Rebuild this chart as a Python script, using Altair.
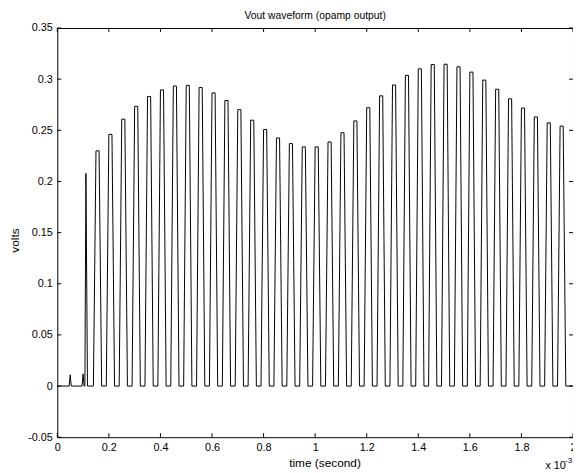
import altair as alt
import pandas as pd

# ---- text ----
chart_title = "Vout waveform (opamp output)"
x_title = "time (second)"
y_title = "volts"

# ---- data (time in ms) ----
pulse_period = 0.05
first_pulse_time = 0.15
pulse_peaks = [0.2299, 0.2460, 0.2609, 0.2734, 0.2831, 0.2895, 0.2933, 0.2940, 0.2918, 0.2866, 0.2792,
               0.2702, 0.2599, 0.2508, 0.2425, 0.2370, 0.2338, 0.2338, 0.2386, 0.2476, 0.2592, 0.2721,
               0.2837, 0.2943, 0.3037, 0.3101, 0.3143, 0.3146, 0.3121, 0.3069, 0.2991, 0.2901, 0.2808,
               0.2718, 0.2631, 0.2573, 0.2541]
startup_times = [0.0, 0.046, 0.050, 0.054, 0.096, 0.100, 0.104, 0.107, 0.111, 0.117]
startup_values = [0.0, 0.0, 0.011, 0.0, 0.0, 0.012, 0.0, 0.0, 0.208, 0.0]
end_times = [2.0]
end_values = [0.0]

# per-pulse shape (offsets from the moment the peak is reached, ms)
rise_time = 0.010
hold_time = 0.012
fall_time = 0.010

x_ticks = [0, 0.2, 0.4, 0.6, 0.8, 1.0, 1.2, 1.4, 1.6, 1.8, 2.0]
y_ticks = [-0.05, 0, 0.05, 0.1, 0.15, 0.2, 0.25, 0.3, 0.35]

# ---- build the waveform table ----
ts, vs = list(startup_times), list(startup_values)
for k, p in enumerate(pulse_peaks):
    t0 = first_pulse_time + k * pulse_period
    ts += [t0 - rise_time, t0, t0 + hold_time, t0 + hold_time + fall_time]
    vs += [0.0, p, p, 0.0]
ts += end_times
vs += end_values
wave = pd.DataFrame({"t": ts, "v": vs, "i": range(len(ts))})

W, H = 523, 415
FONT = "Liberation Sans"
xscale = alt.Scale(domain=[0, 2], nice=False, zero=False)
yscale = alt.Scale(domain=[-0.05, 0.35], nice=False, zero=False)

x_axis = alt.Axis(values=x_ticks, title=x_title, labelExpr="format(datum.value, '~g')",
                  labelPadding=4, titleX=271, titleY=26, titleBaseline="middle",
                  titleFontSize=12, labelFlush=False, labelOverlap=False)
y_axis = alt.Axis(values=y_ticks, title=y_title,
                  labelExpr="replace(format(datum.value, '.2~f'), '\u2212', '-')",
                  labelPadding=5, titleX=-43, titleY=215, titleBaseline="middle",
                  titleFontSize=12, labelOverlap=False)

line = alt.Chart(wave).mark_line(color="black", strokeWidth=1).encode(
    x=alt.X("t:Q", scale=xscale, axis=x_axis),
    y=alt.Y("v:Q", scale=yscale, axis=y_axis),
    order="i:Q",
)

xt = pd.DataFrame({"tick": x_ticks})
yt = pd.DataFrame({"tick": y_ticks})
tick_len = 4
xb = alt.Chart(xt).mark_rule(color="black").encode(
    x=alt.X("tick:Q", scale=xscale, axis=x_axis), y=alt.value(H), y2=alt.value(H - tick_len))
xtop = alt.Chart(xt).mark_rule(color="black").encode(
    x=alt.X("tick:Q", scale=xscale, axis=x_axis), y=alt.value(0), y2=alt.value(tick_len))
yl = alt.Chart(yt).mark_rule(color="black").encode(
    y=alt.Y("tick:Q", scale=yscale, axis=y_axis), x=alt.value(0), x2=alt.value(tick_len))
yr = alt.Chart(yt).mark_rule(color="black").encode(
    y=alt.Y("tick:Q", scale=yscale, axis=y_axis), x=alt.value(W - tick_len), x2=alt.value(W))

mult = alt.Chart(pd.DataFrame({"s": ["x 10"]})).mark_text(
    align="left", baseline="alphabetic", font=FONT, fontSize=11, color="black"
).encode(x=alt.value(W - 28), y=alt.value(H + 32), text="s:N")
expo = alt.Chart(pd.DataFrame({"s": ["-3"]})).mark_text(
    align="left", baseline="alphabetic", font=FONT, fontSize=8, color="black"
).encode(x=alt.value(W - 8), y=alt.value(H + 26), text="s:N")

chart = alt.layer(line, xb, xtop, yl, yr, mult, expo).properties(
    width=W, height=H,
    background="white",
    title=alt.TitleParams(chart_title, font=FONT, fontSize=10.5, fontWeight="normal",
                          anchor="middle", frame="group", offset=1, color="black"),
    autosize=alt.AutoSizeParams(type="none"),
    padding={"left": 50, "top": 17, "right": 0, "bottom": 33},
).configure_view(stroke="black", strokeWidth=1).configure_axis(
    grid=False, domain=False, ticks=False, labelFont=FONT, labelFontSize=11, labelColor="black",
    titleFont=FONT, titleFontWeight="normal", titleColor="black",
)

chart.save("out.html", embed_options={"renderer": "svg", "actions": False})
